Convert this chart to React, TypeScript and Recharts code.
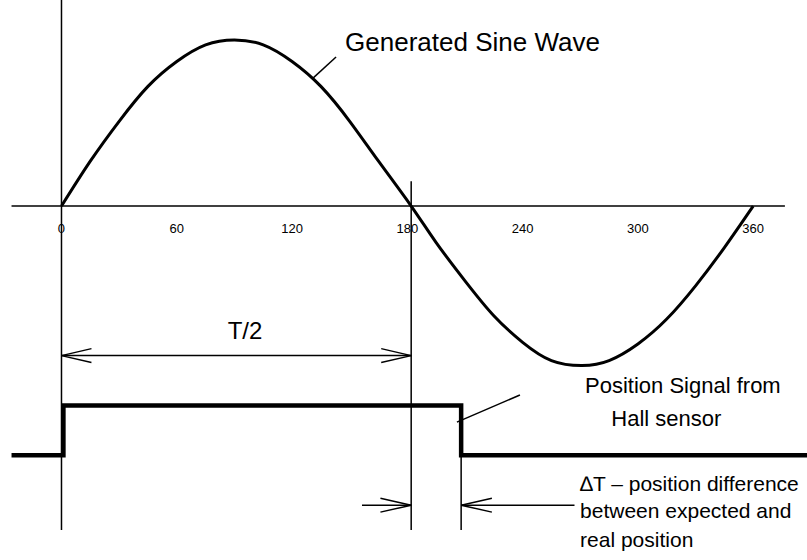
import { ComposedChart, Line, XAxis, YAxis, ReferenceLine, ReferenceDot } from 'recharts';

// angle in degrees, signal in % of sine amplitude
const sineDeg = [0, 15, 30, 45, 60, 75, 90, 105, 120, 135, 150, 165, 182, 195, 210, 225, 240, 255, 271, 285, 300, 315, 330, 345, 360];
const sineVal = [0, 27, 51, 72, 87, 97, 100, 97, 87, 72, 51, 27, 0, -22, -45, -66, -82, -93, -96, -93, -83, -68, -48, -25, 0];

const hallDeg = [-26, 1, 1, 208, 208, 388];
const hallVal = [-150, -150, -120, -120, -150, -150];

const tickDeg = [0, 60, 120, 180, 240, 300, 360];

type Pt = { x: number; y: number };
type Seg = [Pt, Pt];

// axes, marker lines, dimension arrows and leader lines
const guideLines: Seg[] = [
  [{ x: -26, y: 0 }, { x: 376.5, y: 0 }],
  [{ x: 0, y: 124 }, { x: 0, y: -195 }],
  [{ x: 182, y: 15 }, { x: 182, y: -195 }],
  [{ x: 208, y: -120 }, { x: 208, y: -195 }],
  // T/2
  [{ x: 0, y: -90 }, { x: 182, y: -90 }],
  [{ x: 0, y: -90 }, { x: 15.6, y: -85.8 }],
  [{ x: 0, y: -90 }, { x: 15.6, y: -94.2 }],
  [{ x: 182, y: -90 }, { x: 166.4, y: -85.8 }],
  [{ x: 182, y: -90 }, { x: 166.4, y: -94.2 }],
  // delta T
  [{ x: 156.4, y: -180 }, { x: 182, y: -180 }],
  [{ x: 182, y: -180 }, { x: 166, y: -175.8 }],
  [{ x: 182, y: -180 }, { x: 166, y: -184.2 }],
  [{ x: 208, y: -180 }, { x: 267, y: -180 }],
  [{ x: 208, y: -180 }, { x: 224, y: -175.8 }],
  [{ x: 208, y: -180 }, { x: 224, y: -184.2 }],
  // leaders
  [{ x: 130.9, y: 77 }, { x: 142.9, y: 89.7 }],
  [{ x: 205.8, y: -130 }, { x: 238.6, y: -113.7 }],
];

const noteText = ['Generated Sine Wave', 'T/2', 'Position Signal from', 'Hall sensor', '\u2206T \u2013 position difference', 'between expected and', 'real position'];
const noteX = [147.6, 95.5, 323.4, 314.8, 269.9, 269.9, 269.9];
const noteY = [98.7, -74.6, -107.7, -127.6, -166.7, -183.5, -200.4];
const noteAlign = ['start', 'middle', 'middle', 'middle', 'start', 'start', 'start'];
const noteSize = [26, 24, 22, 22, 21, 21, 21];

const sineData = sineDeg.map((x, i) => ({ x, y: sineVal[i] }));
const hallData = hallDeg.map((x, i) => ({ x, y: hallVal[i] }));

const FONT = '"Liberation Sans", Arial, sans-serif';

export default function App() {
  return (
    <div style={{ position: 'absolute', left: 0, top: 0, background: '#fff' }}>
      <ComposedChart width={807} height={560} margin={{ top: 0, right: 0, bottom: 0, left: 0 }}>
        <XAxis type="number" dataKey="x" domain={[-32, 388]} hide allowDataOverflow />
        <YAxis type="number" dataKey="y" domain={[-213, 124]} hide allowDataOverflow />
        {guideLines.map((s, i) => (
          <ReferenceLine key={i} segment={s} stroke="#000" strokeWidth={1.5} ifOverflow="visible" />
        ))}
        <Line data={sineData} dataKey="y" type="natural" stroke="#000" strokeWidth={3} dot={false} activeDot={false} isAnimationActive={false} />
        <Line data={hallData} dataKey="y" type="linear" stroke="#000" strokeWidth={4.5} dot={false} activeDot={false} strokeLinejoin="miter" isAnimationActive={false} />
        {tickDeg.map((t) => (
          <ReferenceDot
            key={'t' + t}
            x={t}
            y={0}
            r={0}
            fill="none"
            stroke="none"
            label={{ value: String(t), position: 'bottom', offset: 18, fill: '#000', fontSize: 13, fontFamily: FONT }}
          />
        ))}
        {noteText.map((txt, i) => (
          <ReferenceDot
            key={'n' + i}
            x={noteX[i]}
            y={noteY[i]}
            r={0}
            fill="none"
            stroke="none"
            label={(props: any) => (
              <text
                x={props.viewBox.x}
                y={props.viewBox.y}
                textAnchor={noteAlign[i]}
                dominantBaseline="central"
                fontSize={noteSize[i]}
                fontFamily={FONT}
                fill="#000"
              >
                {txt}
              </text>
            )}
          />
        ))}
      </ComposedChart>
    </div>
  );
}
